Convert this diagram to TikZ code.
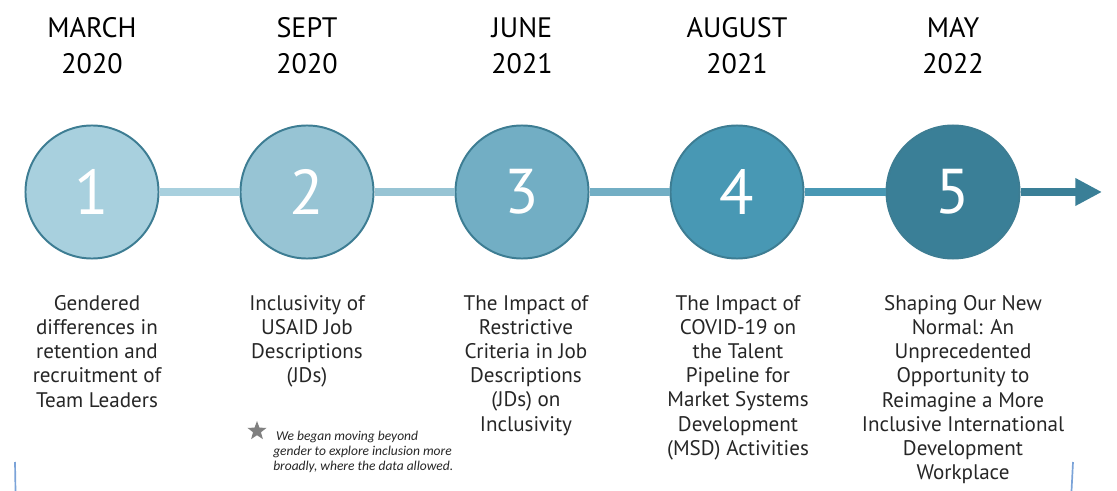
\documentclass[tikz,border=0pt]{standalone}
\usepackage{fontspec}
\setmainfont{PT Sans}
\newfontfamily\notefont{Carlito}
\usepackage{tikz}
\usetikzlibrary{positioning}
\usetikzlibrary{arrows.meta}
\usetikzlibrary{shapes.geometric}

\definecolor{step1}{HTML}{A8D0DE}
\definecolor{step2}{HTML}{97C4D4}
\definecolor{step3}{HTML}{72AEC4}
\definecolor{step4}{HTML}{4898B4}
\definecolor{step5}{HTML}{3A7F97}
\definecolor{ringcol}{HTML}{3D7D93}
\definecolor{bodytext}{HTML}{262626}
\definecolor{edgeblue}{HTML}{7BA3D8}

\tikzset{
    stepcirc/.style={circle, draw=ringcol, line width=1.4pt,
        minimum size=3.325cm, inner sep=0pt, text=white,
        font=\fontsize{45}{45}\selectfont},
    datelbl/.style={align=center, inner sep=0pt,
        font=\fontsize{20}{25.6}\selectfont},
    desc/.style={align=center, anchor=north, inner sep=0pt,
        text=bodytext, font=\fontsize{15}{17.2}\selectfont},
    link/.style={line width=5.7pt},
}

\begin{document}
\begin{tikzpicture}[x=0.025cm, y=-0.025cm]
        \useasboundingbox (0,0) rectangle (1117,491);

        \foreach \i/\x in {1/92, 2/307, 3/522, 4/737, 5/953}
        {
            \node[stepcirc, fill=step\i] (c\i) at (\x,192) {\i};
        }

        \foreach \i/\when in {1/{MARCH\\2020}, 2/{SEPT\\2020},
            3/{JUNE\\2021}, 4/{AUGUST\\2021}, 5/{MAY\\2022}}
        {
            \node[datelbl, above=1.25cm of c\i] (d\i) {\when};
        }

        \foreach \i/\j in {1/2, 2/3, 3/4, 4/5}
        {
            \draw[link, step\i] (c\i) -- (c\j);
        }

        \coordinate (arrowend) at (1102,192);
        \draw[link, step5, -{Triangle[length=19pt, width=18.5pt]}]
        (c5) -- (arrowend);

        \foreach \i/\x/\what in {
            1/97/{Gendered\\differences in\\retention and\\recruitment of\\Team Leaders},
            2/307/{Inclusivity of\\USAID Job\\Descriptions\\(JDs)},
            3/526/{The Impact of\\Restrictive\\Criteria in Job\\Descriptions\\(JDs) on\\Inclusivity},
            4/738/{The Impact of\\COVID-19 on\\the Talent\\Pipeline for\\Market Systems\\Development\\(MSD) Activities},
            5/963/{Shaping Our New\\Normal: An\\Unprecedented\\Opportunity to\\Reimagine a More\\Inclusive International\\Development\\Workplace}}
        {
            \node[desc] (t\i) at (\x,295) {\what};
        }

        \node[align=left, anchor=north west, inner sep=0pt, text=bodytext,
        font=\notefont\itshape\fontsize{9.6}{10.7}\selectfont]
        (note) at (273,431)
        {\hspace{2pt}We began moving beyond\\gender to explore inclusion more\\broadly, where the data allowed.};
        \node[star, star points=5, star point ratio=2.4, fill=gray,
        minimum size=0.5cm, inner sep=0pt] (star) at (257,431) {};

        \draw[edgeblue, line width=1.2pt] (15,462) -- (15.5,491);
        \draw[edgeblue, line width=1.2pt] (1073,462) -- (1071.5,491);
    \end{tikzpicture}
\end{document}
